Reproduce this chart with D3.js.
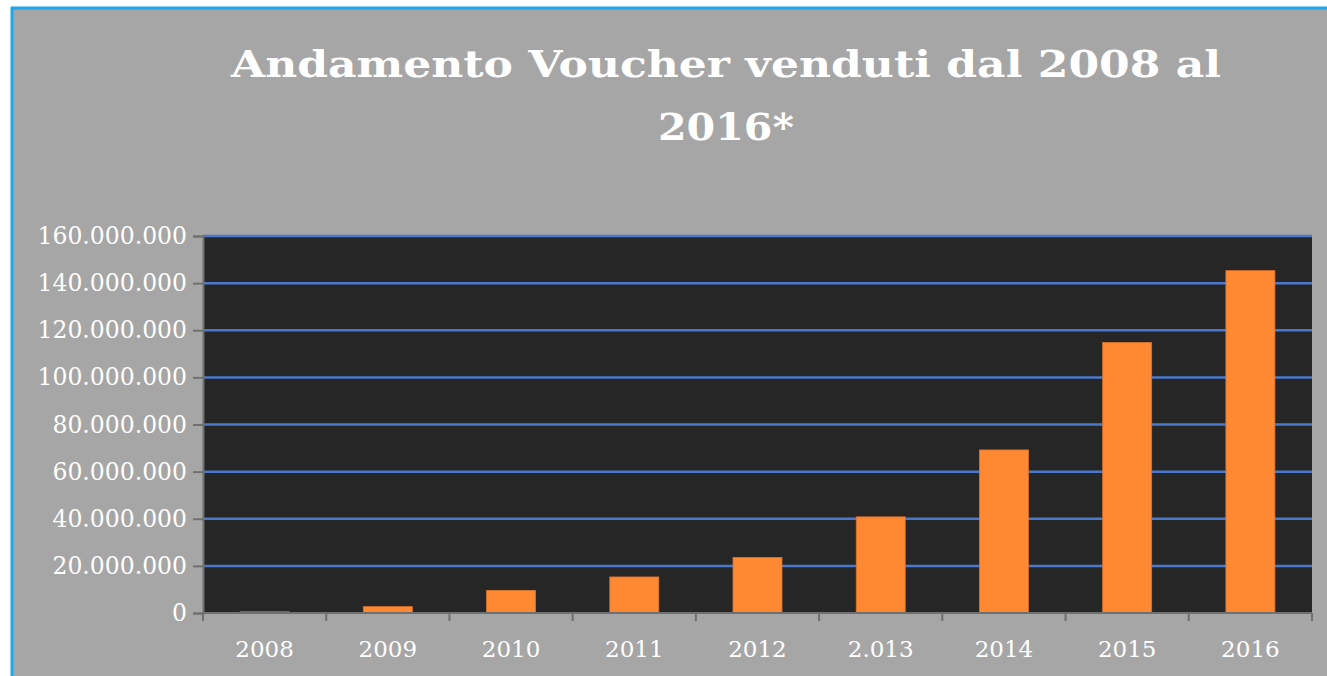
<!DOCTYPE html>
<html>
<head>
  <meta charset="utf-8">
  <title>Andamento Voucher</title>
  <script src="https://cdn.jsdelivr.net/npm/d3@7"></script>
  <style>
    html, body { margin: 0; padding: 0; background: #fff; overflow: hidden; }
    svg { display: block; }
  </style>
</head>
<body>
  <svg width="1327" height="676" id="mainsvg"></svg>
  <script>
    // dati
    const years = ['2008', '2009', '2010', '2011', '2012', '2.013', '2014', '2015', '2016'];
    const vouchers = [500000, 2700000, 9600000, 15300000, 23600000, 40800000, 69200000, 114800000, 145300000];
    const yTicks = [0, 20000000, 40000000, 60000000, 80000000, 100000000, 120000000, 140000000, 160000000];

    const svg = d3.select('#mainsvg');
    const margin = { top: 236, right: 15, bottom: 63, left: 203 };
    const width = +svg.attr('width');
    const height = +svg.attr('height');
    const innerWidth = width - margin.left - margin.right;
    const innerHeight = height - margin.top - margin.bottom;
    const serif = '"DejaVu Serif", serif';

    // sfondo e bordo (a destra e in basso il riquadro continua oltre la pagina)
    svg.append('rect').attr('x', 12).attr('y', 8).attr('width', width - 12).attr('height', height - 8)
      .attr('fill', '#a6a6a6');
    svg.append('path').attr('d', `M12,${height} V8 H${width}`)
      .attr('fill', 'none').attr('stroke', '#1ea7ea').attr('stroke-width', 3);

    // titolo
    const title = svg.append('text').attr('fill', '#fff').attr('font-family', serif)
      .attr('font-weight', 'bold').attr('font-size', 37).attr('text-anchor', 'middle');
    title.append('tspan').attr('x', 726).attr('y', 77).text('Andamento Voucher venduti dal 2008 al')
      .attr('textLength', 990).attr('lengthAdjust', 'spacingAndGlyphs');
    title.append('tspan').attr('x', 726).attr('y', 140).text('2016*')
      .attr('textLength', 136).attr('lengthAdjust', 'spacingAndGlyphs');

    const g = svg.append('g').attr('transform', `translate(${margin.left}, ${margin.top})`);

    const xBand = d3.scaleBand().domain(years).range([0, innerWidth]);
    const y = d3.scaleLinear().domain([0, 160000000]).range([innerHeight, 0]);

    g.append('rect').attr('width', innerWidth).attr('height', innerHeight).attr('fill', '#262626');

    // griglia
    g.selectAll('.grid').data(yTicks.slice(1)).join('line')
      .attr('x1', 0).attr('x2', innerWidth)
      .attr('y1', d => y(d)).attr('y2', d => y(d))
      .attr('stroke', '#4a78cc').attr('stroke-width', 2.5);

    // barre
    g.selectAll('.bar').data(years).join('rect')
      .attr('x', d => xBand(d) + (xBand.bandwidth() - 49) / 2)
      .attr('width', 49)
      .attr('y', (d, i) => y(vouchers[i]))
      .attr('height', (d, i) => innerHeight - y(vouchers[i]))
      .attr('fill', '#ff8833').attr('stroke', '#d9722c').attr('stroke-width', 0.8);

    const fmt = v => d3.format(',')(v).replace(/,/g, '.');

    // asse y
    const yAxis = d3.axisLeft(y).tickValues(yTicks).tickSize(10).tickPadding(6).tickFormat(fmt);
    const yG = g.append('g').call(yAxis);
    yG.select('.domain').attr('stroke', '#707070').attr('stroke-width', 2);
    yG.selectAll('.tick line').attr('stroke', '#707070').attr('stroke-width', 2);
    yG.selectAll('.tick text').attr('fill', '#fff').attr('font-family', serif).attr('font-size', 23.5);

    // asse x
    const bx = d3.scaleLinear().domain([0, years.length]).range([0, innerWidth]);
    const xG = g.append('g').attr('transform', `translate(0, ${innerHeight})`);
    xG.append('line').attr('x1', 0).attr('x2', innerWidth).attr('stroke', '#707070').attr('stroke-width', 2);
    xG.selectAll('.xt').data(d3.range(years.length + 1)).join('line')
      .attr('x1', d => bx(d)).attr('x2', d => bx(d)).attr('y1', 0).attr('y2', 8)
      .attr('stroke', '#707070').attr('stroke-width', 2);
    xG.selectAll('.xl').data(years).join('text')
      .attr('x', d => xBand(d) + xBand.bandwidth() / 2).attr('y', 44)
      .attr('text-anchor', 'middle').attr('fill', '#fff').attr('font-family', serif).attr('font-size', 23)
      .text(d => d);
  </script>
</body>
</html>
